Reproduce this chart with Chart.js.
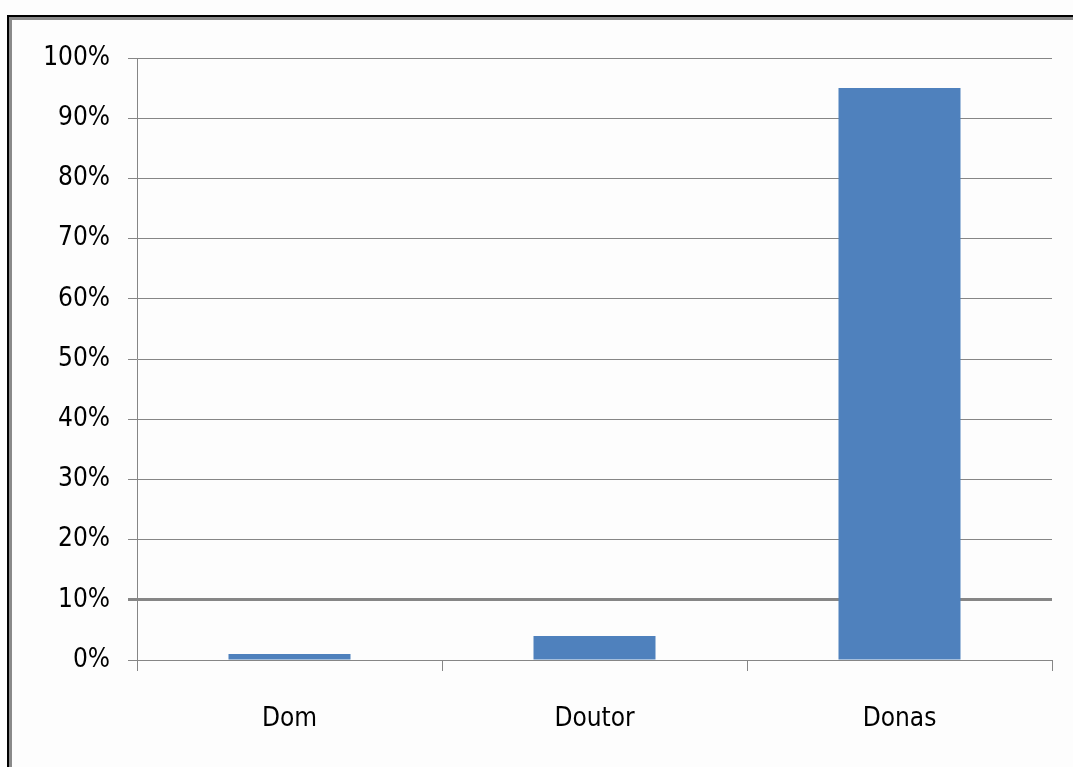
<!DOCTYPE html>
<html>
<head>
<meta charset="utf-8">
<script src="https://cdn.jsdelivr.net/npm/chart.js@4/dist/chart.umd.min.js"></script>
<style>
  html, body { margin: 0; padding: 0; background: #fdfdfd; }
  #wrap { width: 1073px; height: 767px; }
</style>
</head>
<body>
<div id="wrap"><canvas id="c" width="1073" height="767"></canvas></div>
<script>
// Share of answers per name (percent)
const categories = ['Dom', 'Doutor', 'Donas'];
const shares = [1, 4, 95];
const tickValues = [0, 10, 20, 30, 40, 50, 60, 70, 80, 90, 100];

const GRID = '#868686';
const BAR = '#4f81bd';
const FONT = { family: '"DejaVu Sans Condensed", "DejaVu Sans", sans-serif', size: 26 };

// Frame lines along the top and left edges of the sheet
const framePlugin = {
  id: 'frame',
  beforeDraw(chart) {
    const ctx = chart.ctx;
    ctx.save();
    ctx.fillStyle = '#fdfdfd';
    ctx.fillRect(0, 0, chart.width, chart.height);
    ctx.fillStyle = '#000000';
    ctx.fillRect(7, 15, 2, chart.height - 15);
    ctx.fillRect(7, 15, chart.width - 7, 2);
    ctx.fillStyle = '#8a8a8a';
    ctx.fillRect(9, 17, 3, chart.height - 17);
    ctx.fillRect(9, 17, chart.width - 9, 3);
    ctx.restore();
  }
};

new Chart(document.getElementById('c'), {
  type: 'bar',
  data: {
    labels: categories,
    datasets: [{
      data: shares,
      backgroundColor: BAR,
      borderWidth: 0,
      barPercentage: 0.4,
      categoryPercentage: 1
    }]
  },
  options: {
    responsive: false,
    animation: false,
    layout: { padding: { left: 0, top: 58, right: 21, bottom: 0 } },
    plugins: { legend: { display: false }, tooltip: { enabled: false } },
    scales: {
      y: {
        min: 0,
        max: 100,
        afterFit(scale) { scale.width = 137; },
        afterBuildTicks(scale) { scale.ticks = tickValues.map(v => ({ value: v })); },
        border: { display: true, color: GRID, width: 1 },
        grid: {
          color: GRID,
          lineWidth: ctx => (ctx.tick && ctx.tick.value === 10 ? 3 : 1),
          tickLength: 9,
          drawTicks: true
        },
        ticks: {
          padding: 18,
          color: '#000000',
          font: FONT,
          callback: v => v + '%'
        }
      },
      x: {
        afterFit(scale) { scale.height = 767 - 660; },
        border: { display: true, color: GRID, width: 1 },
        grid: {
          offset: true,
          drawOnChartArea: false,
          color: GRID,
          lineWidth: 1,
          tickLength: 11
        },
        ticks: {
          padding: 33,
          color: '#000000',
          font: FONT
        }
      }
    }
  },
  plugins: [framePlugin]
});
</script>
</body>
</html>
